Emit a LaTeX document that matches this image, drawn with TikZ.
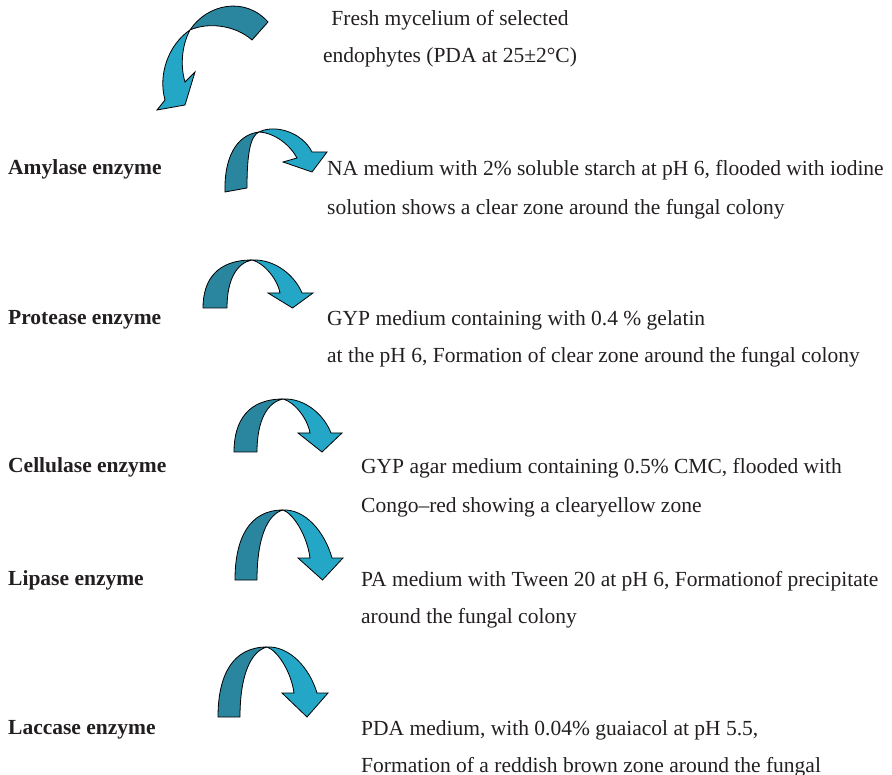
\documentclass[tikz,border=0pt]{standalone}
\usepackage{fontspec}
\setmainfont{Liberation Serif}
\definecolor{arcdark}{RGB}{41,134,158}
\definecolor{arclight}{RGB}{36,166,198}
\definecolor{ink}{RGB}{35,31,32}
\tikzset{
  backface/.style={fill=arcdark, draw=black, line width=0.8pt, line join=round},
  frontface/.style={fill=arclight, draw=black, line width=0.8pt, line join=miter},
  txt/.style={anchor=base west, inner sep=0pt, text=ink, font=\fontsize{21.5}{26}\selectfont},
  ctxt/.style={anchor=base, inner sep=0pt, text=ink, font=\fontsize{21.5}{26}\selectfont},
  lbl/.style={txt, font=\fontsize{21.5}{26}\selectfont\bfseries},
}
% Arched two-tone arrow:
% #1 outer foot x, #2 inner foot x, #3 foot y, #4 crest x, #5 crest y,
% #6 barb y, #7 left barb x, #8 outer shaft x
\newcommand\archarrow[8]{%
  \filldraw[backface] (#1,#3)
    .. controls (#1,{#5+0.4*(#3-#5)}) and ({#1+0.3*(#4-#1)},#5) .. (#4,#5)
    .. controls ({#4-0.6*(#4-#2)},{#5+0.06*(#3-#5)}) and (#2,{#5+0.4*(#3-#5)}) .. (#2,#3)
    -- cycle;
  \filldraw[frontface] (#4,#5)
    .. controls ({#4+0.45*(#8-#4)},{#5-1}) and ({#8-0.15*(#8-#4)},{#5+0.45*(#6-#5)}) .. (#8,#6)
    -- ({#8+11},#6) -- ({#7+0.5*(#8+11-#7)+2},#3) -- (#7,#6) -- ({#7+12},#6)
    .. controls ({#7+12-0.1*(#7+12-#4)},{#6-0.45*(#6-#5)}) and ({#4+0.4*(#7+12-#4)},{#5+0.08*(#6-#5)}) .. (#4,#5)
    -- cycle;
}
\begin{document}
\begin{tikzpicture}[x=1pt,y=-1pt]
\useasboundingbox (0,0) rectangle (892,775);

% top arrow curling down to the left
\filldraw[backface] (190,30) .. controls (207,4) and (245,-4) .. (268,22)
  -- (252,40) .. controls (235,25) and (208,22) .. (190,30) -- cycle;
\filldraw[frontface] (190,30) .. controls (168,45) and (158,75) .. (165,100)
  -- (157,110) -- (185,105) -- (195,72) -- (185,82)
  .. controls (180,65) and (182,45) .. (190,30) -- cycle;

% amylase arrow (tilted)
\filldraw[backface] (225,192) .. controls (224,160) and (235,135) .. (259,132)
  .. controls (250,136) and (247,155) .. (247,188) -- cycle;
\filldraw[frontface] (259,132) .. controls (275,124) and (302,132) .. (312,152)
  -- (327,152) -- (312,172) -- (283,162) -- (297,158)
  .. controls (290,145) and (275,133) .. (259,132) -- cycle;

% protease, cellulase, lipase, laccase arrows
\archarrow{203}{227}{308}{252}{260}{293}{268}{302}
\archarrow{234}{257}{452}{283}{399}{433}{298}{331}
\archarrow{235}{257}{580}{283}{510}{558}{298}{332}
\archarrow{218}{240}{717}{267}{647}{693}{282}{317}

% heading
\node[ctxt] (head1) at (450,26) {Fresh mycelium of selected};
\node[ctxt] (head2) at (450,63) {endophytes (PDA at 25±2°C)};

% enzyme labels
\node[lbl] (amy) at (8,175) {Amylase enzyme};
\node[lbl] (pro) at (8,325) {Protease enzyme};
\node[lbl] (cel) at (8,473) {Cellulase enzyme};
\node[lbl] (lip) at (8,585) {Lipase enzyme};
\node[lbl] (lac) at (8,734) {Laccase enzyme};

% test descriptions
\node[txt] (amy1) at (327,176) {NA medium with 2\% soluble starch at pH 6, flooded with iodine};
\node[txt] (amy2) at (327,215) {solution shows a clear zone around the fungal colony};
\node[txt] (pro1) at (327,326) {GYP medium containing with 0.4 \% gelatin};
\node[txt] (pro2) at (327,363) {at the pH 6, Formation of clear zone around the fungal colony};
\node[txt] (cel1) at (361,474) {GYP agar medium containing 0.5\% CMC, flooded with};
\node[txt] (cel2) at (361,512) {Congo–red showing a clearyellow zone};
\node[txt] (lip1) at (361,586) {PA medium with Tween 20 at pH 6, Formationof precipitate};
\node[txt] (lip2) at (361,623) {around the fungal colony};
\node[txt] (lac1) at (361,735) {PDA medium, with 0.04\% guaiacol at pH 5.5,};
\node[txt] (lac2) at (361,772) {Formation of a reddish brown zone around the fungal};
\end{tikzpicture}
\end{document}
